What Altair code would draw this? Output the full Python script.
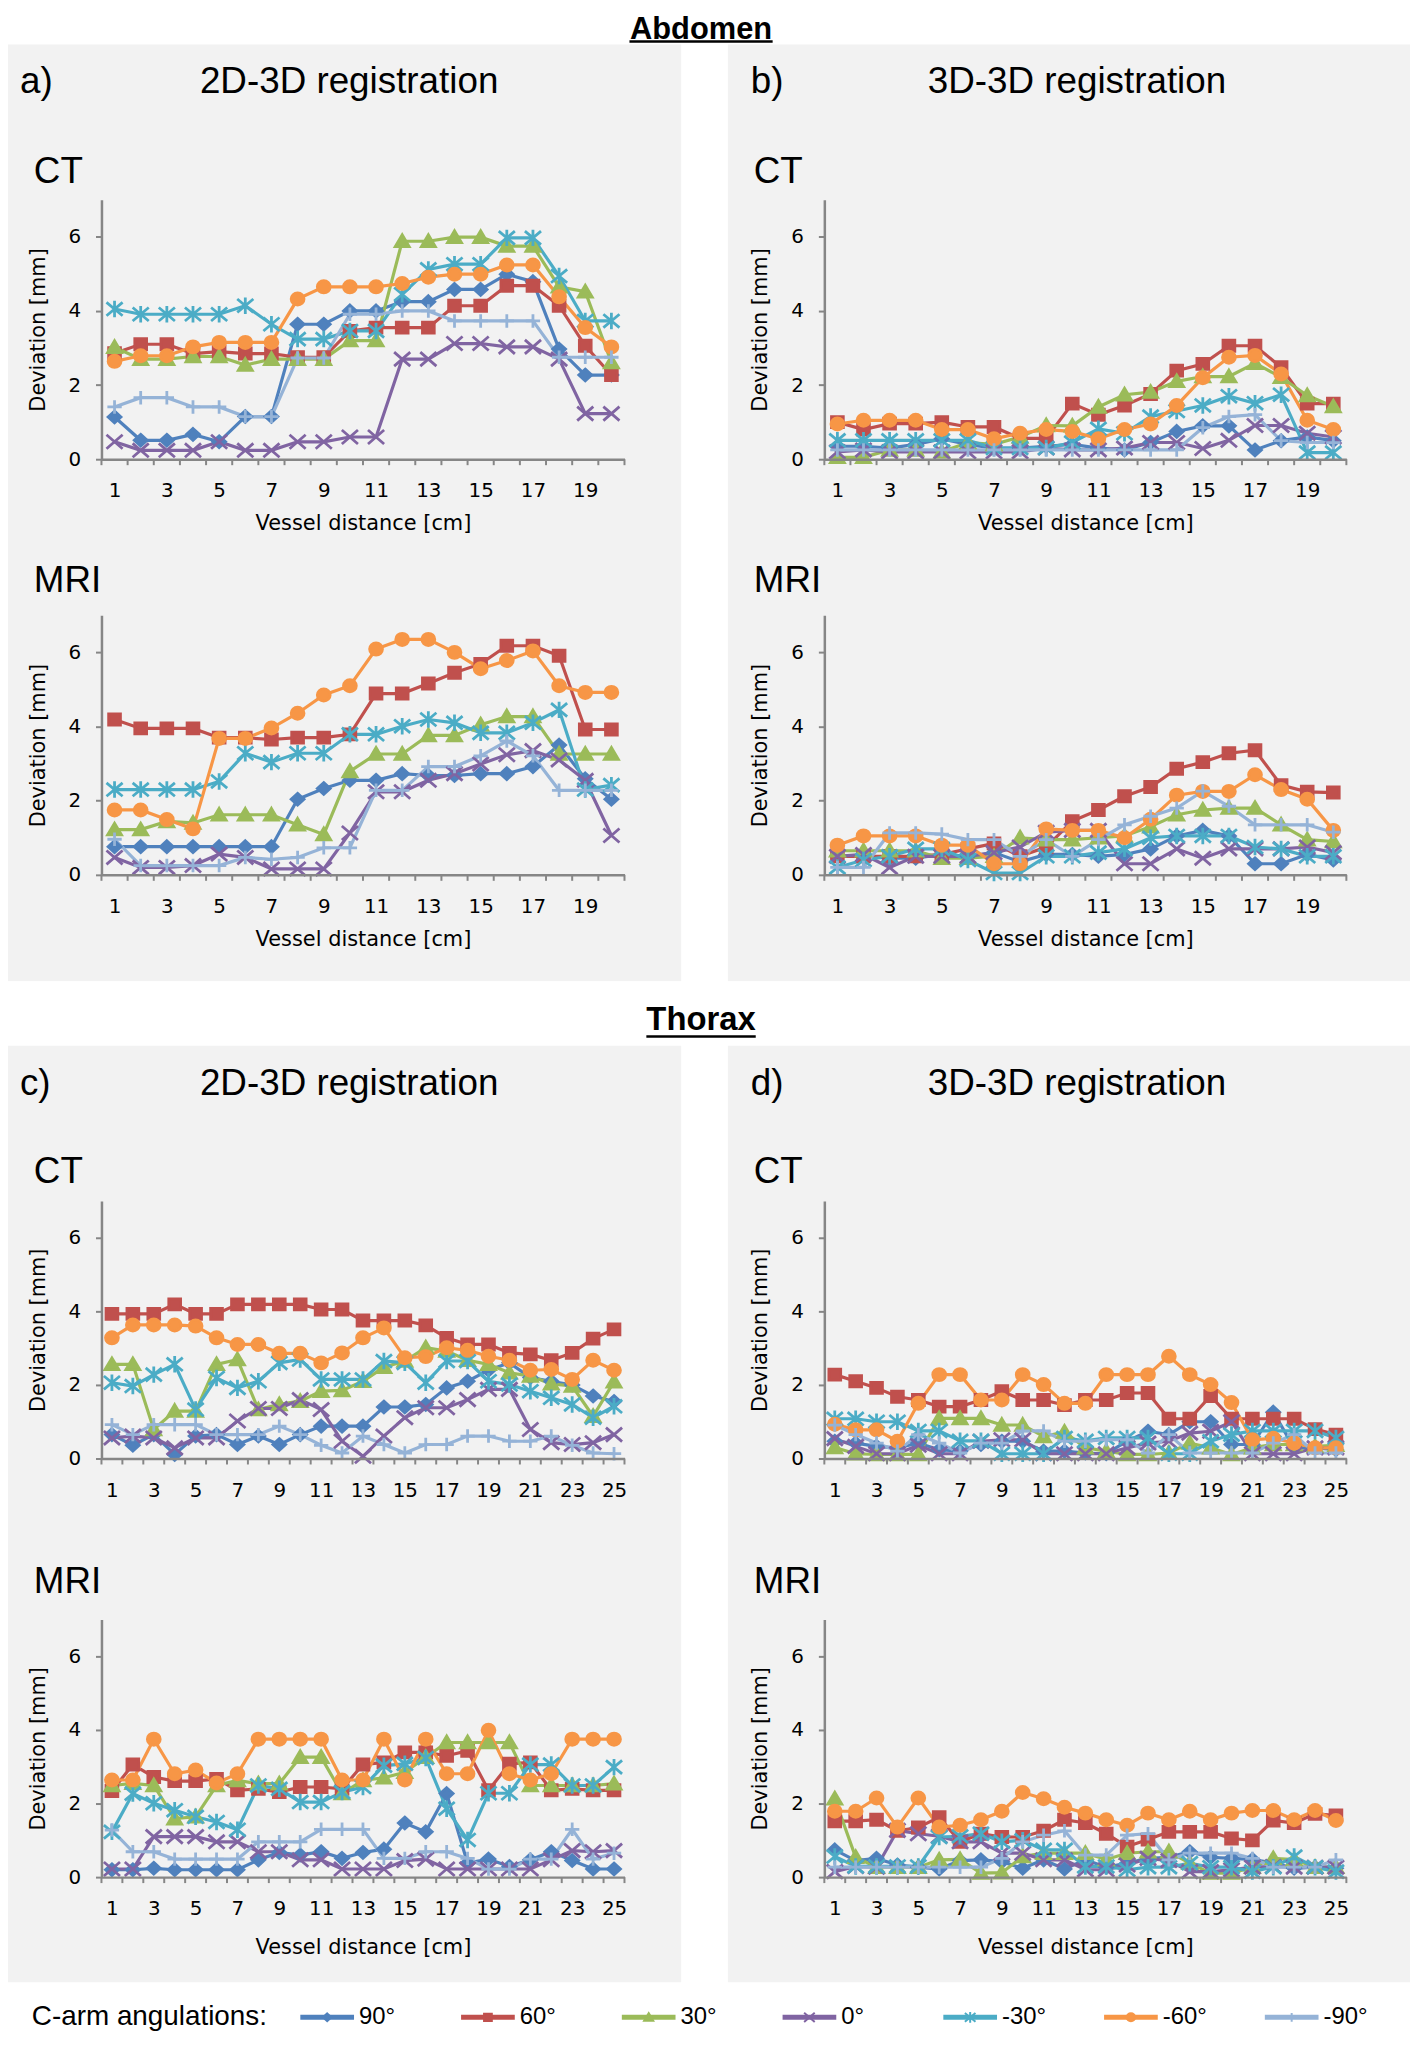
import altair as alt
import pandas as pd

# ---------------- data ----------------
ANGLES = ["90°", "60°", "30°", "0°", "-30°", "-60°", "-90°"]
COLORS = ["#4F81BD", "#C0504D", "#9BBB59", "#8064A2", "#4BACC6", "#F79646", "#95B3D7"]
MARKERS = [
    "M0,-0.66L0.72,0L0,0.66L-0.72,0Z",                                  # diamond
    "M-0.66,-0.62L0.66,-0.62L0.66,0.62L-0.66,0.62Z",                    # square
    "M0,-0.72L0.78,0.6L-0.78,0.6Z",                                      # triangle
    "M-0.9,-0.78L0.9,0.78M-0.9,0.78L0.9,-0.78",                         # x
    "M-0.9,-0.75L0.9,0.75M-0.9,0.75L0.9,-0.75M0,-0.92L0,0.92",          # asterisk
    "M-0.72,0A0.72,0.68 0 1,0 0.72,0A0.72,0.68 0 1,0 -0.72,0Z",         # circle
    "M-0.8,0L0.8,0M0,-0.75L0,0.75",                                      # plus
]

N_ABD = 20
N_THX = 25
X_LABELS_ABD = [1, 3, 5, 7, 9, 11, 13, 15, 17, 19]
X_LABELS_THX = [1, 3, 5, 7, 9, 11, 13, 15, 17, 19, 21, 23, 25]
Y_TICKS = [0, 2, 4, 6]

# rows: 90, 60, 30, 0, -30, -60, -90
A_CT = [
    [1.14, 0.51, 0.51, 0.67, 0.47, 1.15, 1.15, 3.64, 3.64, 4.0, 4.0, 4.25, 4.25, 4.58, 4.58, 4.99, 4.79, 2.97, 2.27, 2.27],
    [2.86, 3.1, 3.1, 2.85, 2.9, 2.85, 2.85, 2.75, 2.75, 3.46, 3.55, 3.55, 3.55, 4.14, 4.14, 4.68, 4.68, 4.14, 3.06, 2.27],
    [3.02, 2.7, 2.7, 2.77, 2.77, 2.54, 2.7, 2.7, 2.7, 3.2, 3.2, 5.88, 5.88, 5.99, 5.99, 5.75, 5.75, 4.65, 4.52, 2.61],
    [0.47, 0.24, 0.24, 0.24, 0.47, 0.24, 0.24, 0.47, 0.47, 0.6, 0.6, 2.7, 2.7, 3.12, 3.12, 3.03, 3.03, 2.7, 1.23, 1.23],
    [4.05, 3.91, 3.91, 3.91, 3.91, 4.14, 3.64, 3.24, 3.24, 3.46, 3.46, 4.45, 5.12, 5.26, 5.26, 5.97, 5.97, 4.94, 3.73, 3.73],
    [2.64, 2.79, 2.79, 3.03, 3.15, 3.15, 3.15, 4.32, 4.65, 4.65, 4.65, 4.74, 4.91, 4.99, 4.99, 5.24, 5.24, 4.38, 3.55, 3.03],
    [1.41, 1.66, 1.66, 1.41, 1.41, 1.15, 1.15, 2.73, 2.73, 3.91, 3.91, 4.0, 4.0, 3.73, 3.73, 3.73, 3.73, 2.75, 2.75, 2.75],
]
A_MRI = [
    [0.76, 0.76, 0.76, 0.76, 0.76, 0.76, 0.76, 2.04, 2.33, 2.55, 2.55, 2.73, 2.68, 2.68, 2.73, 2.73, 2.92, 3.5, 2.59, 2.04],
    [4.19, 3.95, 3.95, 3.95, 3.7, 3.7, 3.65, 3.7, 3.7, 3.79, 4.89, 4.89, 5.16, 5.45, 5.69, 6.18, 6.18, 5.91, 3.92, 3.92],
    [1.22, 1.22, 1.44, 1.4, 1.62, 1.62, 1.62, 1.35, 1.09, 2.79, 3.26, 3.26, 3.76, 3.76, 4.05, 4.27, 4.27, 3.26, 3.26, 3.26],
    [0.47, 0.2, 0.2, 0.25, 0.56, 0.47, 0.16, 0.16, 0.16, 1.13, 2.24, 2.24, 2.55, 2.73, 2.99, 3.24, 3.35, 3.1, 2.55, 1.06],
    [2.3, 2.3, 2.3, 2.3, 2.52, 3.28, 3.04, 3.28, 3.28, 3.79, 3.79, 4.01, 4.19, 4.1, 3.83, 3.83, 4.1, 4.45, 2.3, 2.42],
    [1.75, 1.75, 1.49, 1.24, 3.68, 3.68, 3.96, 4.36, 4.85, 5.1, 6.09, 6.35, 6.35, 6.0, 5.56, 5.78, 6.04, 5.1, 4.92, 4.92],
    [0.96, 0.25, 0.25, 0.25, 0.25, 0.47, 0.42, 0.47, 0.73, 0.73, 2.28, 2.28, 2.92, 2.92, 3.21, 3.61, 3.21, 2.28, 2.28, 2.28],
]
B_CT = [
    [0.35, 0.35, 0.3, 0.4, 0.55, 0.4, 0.3, 0.3, 0.35, 0.4, 0.3, 0.25, 0.45, 0.75, 0.9, 0.9, 0.25, 0.5, 0.6, 0.5],
    [1.0, 0.8, 0.96, 0.96, 1.0, 0.87, 0.87, 0.56, 0.56, 1.5, 1.2, 1.45, 1.76, 2.39, 2.57, 3.06, 3.06, 2.48, 1.5, 1.5],
    [0.05, 0.05, 0.25, 0.25, 0.2, 0.45, 0.4, 0.6, 0.91, 0.9, 1.41, 1.74, 1.81, 2.1, 2.23, 2.23, 2.59, 2.21, 1.72, 1.42],
    [0.2, 0.25, 0.2, 0.2, 0.2, 0.2, 0.2, 0.2, 0.3, 0.25, 0.25, 0.3, 0.45, 0.45, 0.29, 0.51, 0.91, 0.91, 0.7, 0.6],
    [0.51, 0.51, 0.51, 0.51, 0.51, 0.51, 0.3, 0.3, 0.3, 0.45, 0.82, 0.7, 1.15, 1.3, 1.45, 1.7, 1.51, 1.74, 0.18, 0.18],
    [0.95, 1.05, 1.05, 1.05, 0.8, 0.8, 0.55, 0.7, 0.8, 0.75, 0.55, 0.8, 0.95, 1.45, 2.2, 2.75, 2.8, 2.3, 1.05, 0.8],
    [0.25, 0.25, 0.25, 0.25, 0.25, 0.25, 0.25, 0.25, 0.25, 0.25, 0.25, 0.25, 0.25, 0.25, 0.85, 1.15, 1.2, 0.5, 0.45, 0.45],
]
B_MRI = [
    [0.5, 0.5, 0.45, 0.45, 0.55, 0.5, 0.6, 0.35, 0.55, 0.55, 0.5, 0.55, 0.7, 1.05, 1.2, 1.05, 0.3, 0.3, 0.55, 0.4],
    [0.5, 0.5, 0.5, 0.5, 0.55, 0.7, 0.85, 0.5, 0.75, 1.45, 1.75, 2.12, 2.37, 2.86, 3.04, 3.28, 3.36, 2.42, 2.24, 2.22],
    [0.65, 0.65, 0.65, 0.65, 0.45, 0.45, 0.5, 1.0, 0.95, 0.95, 1.0, 1.05, 1.3, 1.62, 1.75, 1.8, 1.8, 1.35, 0.95, 0.9],
    [0.5, 0.55, 0.2, 0.5, 0.5, 0.5, 0.6, 0.75, 1.15, 1.2, 1.2, 0.3, 0.3, 0.7, 0.45, 0.7, 0.7, 0.7, 0.75, 0.6],
    [0.2, 0.4, 0.5, 0.7, 0.7, 0.4, 0.05, 0.05, 0.5, 0.5, 0.6, 0.7, 1.0, 1.05, 1.05, 1.05, 0.75, 0.7, 0.5, 0.5],
    [0.8, 1.05, 1.05, 1.05, 0.8, 0.8, 0.3, 0.3, 1.24, 1.2, 1.2, 1.0, 1.5, 2.15, 2.25, 2.25, 2.7, 2.3, 2.04, 1.2],
    [0.2, 0.2, 1.13, 1.13, 1.1, 0.95, 0.95, 0.5, 0.95, 0.5, 0.95, 1.35, 1.58, 1.8, 2.26, 1.85, 1.35, 1.35, 1.35, 1.15],
]
C_CT = [
    [0.65, 0.36, 0.65, 0.11, 0.61, 0.65, 0.38, 0.61, 0.38, 0.65, 0.88, 0.88, 0.88, 1.4, 1.4, 1.47, 1.92, 2.1, 2.4, 2.6, 2.2, 2.1, 2.0, 1.7, 1.55],
    [3.93, 3.93, 3.93, 4.19, 3.93, 3.93, 4.19, 4.19, 4.19, 4.19, 4.05, 4.05, 3.75, 3.75, 3.75, 3.62, 3.28, 3.1, 3.1, 2.87, 2.83, 2.67, 2.87, 3.26, 3.51],
    [2.56, 2.56, 0.79, 1.29, 1.29, 2.56, 2.69, 1.33, 1.47, 1.56, 1.83, 1.85, 2.1, 2.48, 2.65, 3.01, 2.92, 2.67, 2.56, 2.33, 2.24, 2.03, 1.97, 1.15, 2.09],
    [0.56, 0.61, 0.56, 0.29, 0.56, 0.56, 1.02, 1.36, 1.36, 1.6, 1.33, 0.47, 0.06, 0.61, 1.11, 1.38, 1.38, 1.6, 1.88, 1.88, 0.79, 0.43, 0.38, 0.43, 0.65],
    [2.06, 1.97, 2.28, 2.56, 1.33, 2.19, 1.92, 2.1, 2.6, 2.69, 2.15, 2.15, 2.15, 2.65, 2.6, 2.06, 2.65, 2.65, 2.1, 2.01, 1.83, 1.65, 1.47, 1.11, 1.42],
    [3.28, 3.63, 3.63, 3.63, 3.6, 3.28, 3.1, 3.1, 2.86, 2.86, 2.6, 2.87, 3.28, 3.55, 2.74, 2.77, 3.01, 2.94, 2.78, 2.67, 2.4, 2.42, 2.15, 2.67, 2.4],
    [0.92, 0.65, 0.92, 0.92, 0.92, 0.65, 0.65, 0.65, 0.88, 0.65, 0.36, 0.15, 0.61, 0.38, 0.15, 0.38, 0.38, 0.61, 0.61, 0.47, 0.47, 0.61, 0.36, 0.15, 0.13],
]
C_MRI = [
    [0.2, 0.2, 0.24, 0.2, 0.2, 0.2, 0.2, 0.47, 0.67, 0.6, 0.69, 0.51, 0.67, 0.76, 1.47, 1.23, 2.27, 0.38, 0.49, 0.29, 0.47, 0.69, 0.45, 0.22, 0.22],
    [2.34, 3.06, 2.72, 2.61, 2.61, 2.67, 2.36, 2.4, 2.31, 2.45, 2.45, 2.4, 3.06, 3.12, 3.39, 3.39, 3.3, 3.43, 2.36, 3.08, 3.12, 2.36, 2.4, 2.36, 2.36],
    [2.49, 2.55, 2.49, 1.59, 1.64, 2.49, 2.63, 2.54, 2.54, 3.26, 3.26, 2.27, 2.63, 2.7, 2.85, 3.26, 3.66, 3.66, 3.66, 3.66, 2.49, 2.49, 2.49, 2.49, 2.54],
    [0.22, 0.22, 1.1, 1.1, 1.1, 0.96, 0.96, 0.69, 0.69, 0.47, 0.47, 0.22, 0.22, 0.22, 0.45, 0.49, 0.22, 0.22, 0.22, 0.22, 0.22, 0.47, 0.72, 0.69, 0.72],
    [1.23, 2.27, 2.01, 1.82, 1.64, 1.5, 1.29, 2.49, 2.4, 2.04, 2.04, 2.31, 2.45, 3.03, 3.08, 3.24, 1.86, 1.01, 2.28, 2.28, 3.06, 3.06, 2.49, 2.49, 2.99],
    [2.64, 2.64, 3.75, 2.81, 2.91, 2.56, 2.81, 3.75, 3.75, 3.75, 3.75, 2.64, 2.64, 3.75, 2.64, 3.75, 2.81, 2.81, 3.99, 2.81, 2.64, 2.81, 3.75, 3.75, 3.75],
    [1.28, 0.69, 0.69, 0.49, 0.49, 0.49, 0.49, 0.96, 0.96, 0.96, 1.3, 1.3, 1.3, 0.51, 0.51, 0.69, 0.69, 0.51, 0.22, 0.22, 0.49, 0.49, 1.3, 0.49, 0.65],
]
D_CT = [
    [0.47, 0.42, 0.33, 0.29, 0.42, 0.24, 0.2, 0.38, 0.47, 0.47, 0.2, 0.2, 0.15, 0.13, 0.47, 0.74, 0.65, 1.0, 1.0, 0.38, 0.38, 1.26, 0.29, 0.29, 0.24],
    [2.28, 2.1, 1.92, 1.68, 1.59, 1.41, 1.41, 1.59, 1.83, 1.59, 1.59, 1.45, 1.59, 1.59, 1.78, 1.78, 1.08, 1.08, 1.7, 1.08, 1.08, 1.08, 1.08, 0.8, 0.65],
    [0.3, 0.13, 0.11, 0.11, 0.11, 1.09, 1.09, 1.09, 0.91, 0.91, 0.6, 0.72, 0.29, 0.2, 0.11, 0.11, 0.15, 0.42, 0.29, 0.11, 0.29, 0.38, 0.38, 0.33, 0.36],
    [0.54, 0.33, 0.13, 0.13, 0.36, 0.13, 0.13, 0.47, 0.51, 0.51, 0.13, 0.13, 0.13, 0.13, 0.29, 0.42, 0.47, 0.69, 0.74, 1.0, 0.13, 0.13, 0.13, 0.29, 0.29],
    [1.08, 1.08, 1.0, 1.0, 0.75, 0.75, 0.48, 0.48, 0.13, 0.13, 0.13, 0.56, 0.48, 0.56, 0.56, 0.56, 0.13, 0.13, 0.47, 0.65, 0.75, 0.75, 0.75, 0.75, 0.56],
    [0.93, 0.78, 0.78, 0.47, 1.5, 2.28, 2.28, 1.59, 1.59, 2.28, 2.01, 1.5, 1.5, 2.28, 2.28, 2.28, 2.78, 2.28, 2.01, 1.52, 0.51, 0.55, 0.42, 0.29, 0.29],
    [0.91, 0.65, 0.42, 0.2, 0.65, 0.42, 0.15, 0.42, 0.42, 0.75, 0.75, 0.47, 0.47, 0.51, 0.51, 0.15, 0.65, 0.15, 0.15, 0.15, 0.15, 0.42, 0.65, 0.15, 0.15],
]
D_MRI = [
    [0.74, 0.45, 0.51, 0.33, 0.27, 0.22, 0.45, 0.47, 0.42, 0.24, 0.47, 0.22, 0.47, 0.27, 0.38, 0.51, 0.54, 0.69, 0.54, 0.51, 0.48, 0.39, 0.24, 0.27, 0.24],
    [1.52, 1.52, 1.56, 1.26, 1.35, 1.63, 0.96, 1.18, 1.09, 1.09, 1.26, 1.56, 1.47, 1.18, 0.83, 1.02, 1.23, 1.23, 1.23, 1.05, 1.0, 1.54, 1.47, 1.72, 1.68],
    [2.13, 0.54, 0.27, 0.27, 0.27, 0.47, 0.48, 0.11, 0.12, 0.56, 0.65, 0.65, 0.65, 0.48, 0.65, 0.69, 0.69, 0.38, 0.11, 0.11, 0.27, 0.51, 0.48, 0.27, 0.27],
    [0.15, 0.29, 0.27, 1.27, 1.18, 1.11, 0.96, 0.96, 0.65, 0.65, 0.47, 0.47, 0.2, 0.2, 0.33, 0.51, 0.45, 0.15, 0.15, 0.2, 0.27, 0.29, 0.27, 0.27, 0.27],
    [0.56, 0.29, 0.29, 0.29, 0.29, 1.09, 1.11, 1.18, 0.96, 1.0, 0.74, 0.74, 0.29, 0.29, 0.2, 0.27, 0.27, 0.38, 0.27, 0.27, 0.15, 0.27, 0.56, 0.27, 0.15],
    [1.79, 1.79, 2.15, 1.36, 2.15, 1.36, 1.41, 1.56, 1.79, 2.3, 2.13, 1.9, 1.74, 1.56, 1.41, 1.74, 1.56, 1.79, 1.56, 1.74, 1.81, 1.81, 1.56, 1.81, 1.54],
    [0.27, 0.27, 0.27, 0.27, 0.27, 0.27, 0.27, 0.27, 0.51, 0.96, 1.14, 1.26, 0.6, 0.6, 1.14, 1.18, 0.47, 0.65, 0.65, 0.65, 0.51, 0.27, 0.27, 0.27, 0.47],
]

# ---------------- style / layout ----------------
AX = "#868686"
PANEL = "#F2F2F2"
AXFONT = "DejaVu Sans"
TFONT = "Liberation Sans"
W_L, W_R = 526, 525
H_A, H_T = 261, 259

CS = alt.Scale(domain=ANGLES, range=COLORS)
SS = alt.Scale(domain=ANGLES, range=MARKERS)


def single(**kw):
    return pd.DataFrame([kw])


def series_df(series):
    rows = []
    for ang, vals in zip(ANGLES, series):
        for i, v in enumerate(vals, start=1):
            rows.append({"dist": i, "dev": v, "ang": ang})
    return pd.DataFrame(rows)


def text_layer(t, x, y, size, weight="normal", align="left", baseline="alphabetic"):
    return alt.Chart(single(t=t)).mark_text(
        align=align, baseline=baseline, font=TFONT, fontSize=size,
        fontWeight=weight, color="black"
    ).encode(x=alt.value(x), y=alt.value(y), text="t:N")


def rect_layer(x1, x2, y1, y2, fill):
    return alt.Chart(single(k=0)).mark_rect(fill=fill, strokeWidth=0).encode(
        x=alt.value(x1), x2=alt.value(x2), y=alt.value(y1), y2=alt.value(y2))


def plot(series, n, labels, w, h, xtitle, xtitle_pad, extras):
    df = series_df(series)
    xs = alt.Scale(domain=[0.5, n + 0.5], nice=False, zero=False)
    ys = alt.Scale(domain=[0, 7], nice=False)
    xaxis = alt.Axis(values=labels, grid=False, ticks=False, tickSize=0,
                     domainColor=AX, domainWidth=2.5, labelFont=AXFONT,
                     labelFontSize=20, labelColor="black", labelPadding=22,
                     labelOverlap=False, labelFlush=False, titleFont=AXFONT,
                     titleFontSize=21, titleFontWeight="normal", titleColor="black",
                     titlePadding=xtitle_pad, zindex=1, format="d")
    yaxis = alt.Axis(values=Y_TICKS, grid=False, tickSize=6, tickColor=AX,
                     tickWidth=2, domainColor=AX, domainWidth=2.5, labelFont=AXFONT,
                     labelFontSize=20, labelColor="black", labelPadding=15,
                     titleFont=AXFONT, titleFontSize=21, titleFontWeight="normal",
                     titleColor="black", titlePadding=20, zindex=1, format="d")
    X = alt.X("dist:Q", scale=xs, axis=xaxis, title=xtitle)
    XB = alt.X("b:Q", scale=xs, axis=xaxis, title=xtitle)
    Y = alt.Y("dev:Q", scale=ys, axis=yaxis, title="Deviation [mm]")
    bounds_df = pd.DataFrame({"b": [k + 0.5 for k in range(n + 1)]})
    ticks = alt.Chart(bounds_df).mark_rule(color=AX, strokeWidth=2).encode(
        x=XB, y=alt.value(h), y2=alt.value(h + 6))
    lines = alt.Chart(df).mark_line(strokeWidth=3.2).encode(
        x=X, y=Y, color=alt.Color("ang:N", scale=CS, legend=None))
    pts = alt.Chart(df).mark_point(filled=True, size=324, strokeWidth=2.8, opacity=1).encode(
        x=X, y=Y,
        fill=alt.Fill("ang:N", scale=CS, legend=None),
        stroke=alt.Stroke("ang:N", scale=CS, legend=None),
        shape=alt.Shape("ang:N", scale=SS, legend=None))
    return alt.layer(*extras, ticks, lines, pts).properties(width=w, height=h)


XT = "Vessel distance [cm]"

# Abdomen
a_ct = plot(A_CT, N_ABD, X_LABELS_ABD, W_L, H_A, XT, 12, [
    rect_layer(-94, 583, -156, 786, PANEL),
    text_layer("a)", -82, -107, 37),
    text_layer("2D-3D registration", 99, -107, 37),
    text_layer("CT", -68, -17, 37),
])
a_mri = plot(A_MRI, N_ABD, X_LABELS_ABD, W_L, H_A, XT, 12, [
    text_layer("MRI", -68, -23, 37),
])
b_ct = plot(B_CT, N_ABD, X_LABELS_ABD, W_R, H_A, XT, 12, [
    rect_layer(-97, 589, -156, 786, PANEL),
    text_layer("b)", -74, -107, 37),
    text_layer("3D-3D registration", 104, -107, 37),
    text_layer("CT", -71, -17, 37),
])
b_mri = plot(B_MRI, N_ABD, X_LABELS_ABD, W_R, H_A, XT, 12, [
    text_layer("MRI", -71, -23, 37),
])

# Thorax
c_ct = plot(C_CT, N_THX, X_LABELS_THX, W_L, H_T, None, 12, [
    rect_layer(-94, 583, -156, 786, PANEL),
    text_layer("c)", -82, -107, 37),
    text_layer("2D-3D registration", 99, -107, 37),
    text_layer("CT", -68, -18, 37),
])
c_mri = plot(C_MRI, N_THX, X_LABELS_THX, W_L, H_T, XT, 18, [
    text_layer("MRI", -68, -27, 37),
])
d_ct = plot(D_CT, N_THX, X_LABELS_THX, W_R, H_T, None, 12, [
    rect_layer(-97, 589, -156, 786, PANEL),
    text_layer("d)", -74, -107, 37),
    text_layer("3D-3D registration", 104, -107, 37),
    text_layer("CT", -71, -18, 37),
])
d_mri = plot(D_MRI, N_THX, X_LABELS_THX, W_R, H_T, XT, 18, [
    text_layer("MRI", -71, -27, 37),
])


def title_row(text, size, base, line_y, half, height):
    ext = rect_layer(-94, 1316, 0, height, "white")
    t = text_layer(text, 603, base, size, weight="bold", align="center")
    u = alt.Chart(single(k=0)).mark_rule(color="black", strokeWidth=2.5).encode(
        x=alt.value(603 - half), x2=alt.value(603 + half), y=alt.value(line_y))
    return alt.layer(ext, t, u).properties(width=1316, height=height)


title_a = title_row("Abdomen", 31, 25, 28, 72, 31)
title_t = title_row("Thorax", 33, 49, 55.5, 55, 65)

# legend row
leg_df = pd.DataFrame({"ang": ANGLES, "idx": list(range(len(ANGLES)))})
LX = alt.X("idx:Q", scale=alt.Scale(domain=[0, 6], range=[227, 1197]), axis=None)
LEG_Y = 35
leg_ext = rect_layer(-94, 1316, 0, 48, "white")
leg_lines = alt.Chart(leg_df).mark_rule(strokeWidth=5, xOffset=-27, x2Offset=27).encode(
    x=LX, x2=alt.X2("idx:Q"), y=alt.value(LEG_Y),
    color=alt.Color("ang:N", scale=CS, legend=None))
leg_pts = alt.Chart(leg_df).mark_point(filled=True, size=140, strokeWidth=2, opacity=1).encode(
    x=LX, y=alt.value(LEG_Y),
    fill=alt.Fill("ang:N", scale=CS, legend=None),
    stroke=alt.Stroke("ang:N", scale=CS, legend=None),
    shape=alt.Shape("ang:N", scale=SS, legend=None))
leg_txt = alt.Chart(leg_df).mark_text(align="left", baseline="middle", dx=32, font=TFONT,
                                      fontSize=24, color="black").encode(
    x=LX, y=alt.value(LEG_Y), text="ang:N")
leg_title = text_layer("C-arm angulations:", -70, LEG_Y, 28, baseline="middle")
legend = alt.layer(leg_ext, leg_title, leg_lines, leg_pts, leg_txt).properties(width=1200, height=48)

col_a = alt.vconcat(a_ct, a_mri, spacing=157, bounds="flush")
col_b = alt.vconcat(b_ct, b_mri, spacing=157, bounds="flush")
col_c = alt.vconcat(c_ct, c_mri, spacing=162, bounds="flush")
col_d = alt.vconcat(d_ct, d_mri, spacing=162, bounds="flush")
row_ab = alt.hconcat(col_a, col_b, spacing=47)
row_cd = alt.hconcat(col_c, col_d, spacing=47)

chart = alt.vconcat(title_a, row_ab, title_t, row_cd, legend, spacing=0).properties(
    padding=0, background="white"
).configure_view(strokeWidth=0)

chart.save("out.html", embed_options={"renderer": "svg", "actions": False})
